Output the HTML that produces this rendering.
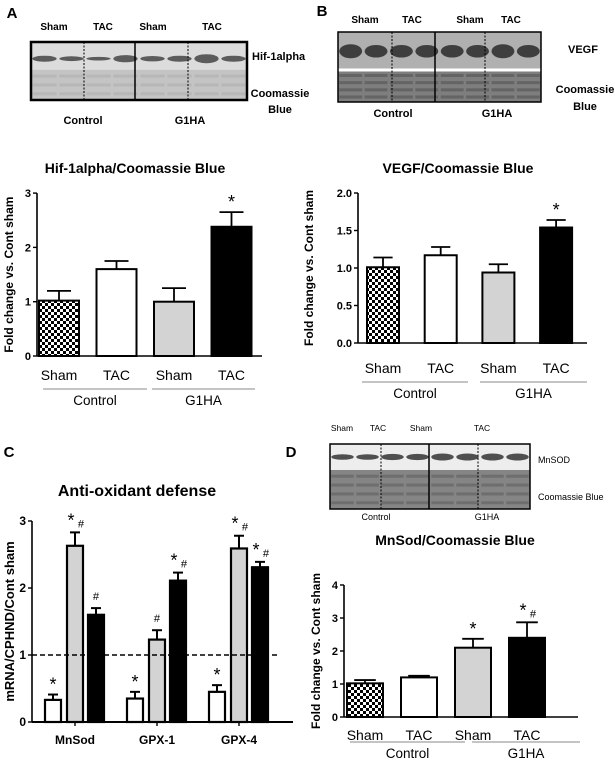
<!DOCTYPE html>
<html><head><meta charset="utf-8">
<style>
html,body{margin:0;padding:0;background:#fff;}
svg{display:block;font-family:"Liberation Sans",Arial,sans-serif;}
</style></head>
<body>
<svg id="fig" width="615" height="765" viewBox="0 0 615 765" xmlns="http://www.w3.org/2000/svg">
<defs>
<pattern id="chk" width="6" height="6" patternUnits="userSpaceOnUse">
<rect width="6" height="6" fill="#fff"/><rect width="3" height="3" fill="#000"/><rect x="3" y="3" width="3" height="3" fill="#000"/>
</pattern>
</defs>
<g id="root"></g>
</svg>
<script>
// ---- Panel A data ----
const catsA = ["Sham","TAC","Sham","TAC"];
const valsA = [1.02, 1.6, 1.0, 2.38];
const errA = [0.18, 0.15, 0.25, 0.27];
const annA = ["", "", "", "*"];
const ticksA = [0, 1, 2, 3];
const tickLabelsA = ["0","1","2","3"];
// ---- Panel B data ----
const catsB = ["Sham","TAC","Sham","TAC"];
const valsB = [1.01, 1.17, 0.94, 1.54];
const errB = [0.13, 0.11, 0.11, 0.10];
const annB = ["", "", "", "*"];
const ticksB = [0, 0.5, 1, 1.5, 2];
const tickLabelsB = ["0.0","0.5","1.0","1.5","2.0"];
// ---- Panel C data ----
const genesC = ["MnSod","GPX-1","GPX-4"];
const seriesC1 = [0.33, 0.35, 0.45];
const seriesC1err = [0.08, 0.10, 0.10];
const seriesC2 = [2.63, 1.23, 2.59];
const seriesC2err = [0.20, 0.14, 0.19];
const seriesC3 = [1.60, 2.11, 2.31];
const seriesC3err = [0.10, 0.12, 0.08];
const annC1 = ["*","*","*"];
const annC2 = ["*#","#","*#"];
const annC3 = ["#","*#","*#"];
const ticksC = [0,1,2,3];
const tickLabelsC = ["0","1","2","3"];
const refLineC = 1;
// ---- Panel D data ----
const catsD = ["Sham","TAC","Sham","TAC"];
const valsD = [1.02, 1.2, 2.1, 2.4];
const errD = [0.10, 0.05, 0.27, 0.47];
const annD = ["", "", "*", "*#"];
const ticksD = [0,1,2,3,4];
const tickLabelsD = ["0","1","2","3","4"];

const NS="http://www.w3.org/2000/svg";
const root=document.getElementById('root');
function mk(tag, attrs, parent){
  const e=document.createElementNS(NS,tag);
  for(const k in attrs) e.setAttribute(k,attrs[k]);
  (parent||root).appendChild(e);
  return e;
}
function txt(s,x,y,size,opts,parent){
  opts=opts||{};
  const t=mk('text',{x:x,y:y,'font-size':size,'text-anchor':opts.anchor||'middle',fill:opts.fill||'#000'},parent);
  if(opts.bold) t.setAttribute('font-weight','bold');
  if(opts.rot) t.setAttribute('transform','rotate(-90 '+x+' '+y+')');
  t.textContent=s;
  return t;
}
const fills=['url(#chk)','#fff','#d3d3d3','#000'];

function annot(s,cx,yTop,size){
  if(!s) return;
  if(s==="*"){
    const t=txt("*",cx,yTop+4,size,{});
    
    
  } else if(s==="#"){
    const t=txt("#",cx,yTop,size*0.62,{});
    
    
  } else {
    const t1=txt("*",cx-4,yTop+2,size,{});
    
    
    const t2=txt("#",cx+6,yTop+3,size*0.62,{});
    
    
  }
}

function yAxis(g,ax,y0,unit,ymax,ticks,labels,fs,bold){
  const sy=v=>y0-v*unit;
  const l=mk('line',{x1:ax,y1:y0,x2:ax,y2:sy(ymax),stroke:'#000','stroke-width':1.6},g);
  
  
  ticks.forEach((v,i)=>{
    mk('line',{x1:ax-4,y1:sy(v),x2:ax,y2:sy(v),stroke:'#000','stroke-width':1.4},g);
    const t=txt(labels[i],ax-6,sy(v)+4,fs,{anchor:'end',bold:bold});
    
    
  });
  return sy;
}

function barChart(cfg){
  const g=mk('g',{});
  
  
  const sy=yAxis(g,cfg.ax,cfg.y0,cfg.unit,cfg.ymax,cfg.ticks,cfg.tickLabels,11,true);
  const xa=mk('line',{x1:cfg.ax,y1:cfg.y0,x2:cfg.axEnd,y2:cfg.y0,stroke:'#000','stroke-width':1.6},g);
  
  
  cfg.vals.forEach((v,i)=>{
    const cx=cfg.start+i*cfg.step, w=cfg.bw;
    const top=sy(v+cfg.err[i]);
    const e=mk('line',{x1:cx,y1:sy(v),x2:cx,y2:top,stroke:'#000','stroke-width':1.8},g);
    
    
    const c=mk('line',{x1:cx-w*0.3,y1:top,x2:cx+w*0.3,y2:top,stroke:'#000','stroke-width':1.8},g);
    
    
    const r=mk('rect',{x:cx-w/2,y:sy(v),width:w,height:v*cfg.unit,fill:fills[i],stroke:'#000','stroke-width':2},g);
    
    
    annot(cfg.ann[i],cx,top-8,18);
    const t=txt(cfg.cats[i],cx,cfg.labelY,14,{});
    
    
  });
  cfg.groups.forEach(gp=>{
    const l=mk('line',{x1:gp[0],y1:cfg.groupLineY,x2:gp[1],y2:cfg.groupLineY,stroke:'#888','stroke-width':1},g);
    
    
    const t=txt(gp[2],(gp[0]+gp[1])/2,cfg.groupLineY+16,13.5,{});
    
    
  });
  const tt=txt(cfg.title,cfg.titleX,cfg.titleY,14,{bold:true});
  
  
  const yl=txt(cfg.ylabel,cfg.ylabelX,(cfg.y0+sy(cfg.ymax))/2,12,{bold:true,rot:true});
  
  
}

function blot(cfg){
  const g=mk('g',{});
  
  
  const x=cfg.x,y=cfg.y,w=cfg.w,h=cfg.h;
  mk('rect',{x:x,y:y,width:w,height:h,fill:cfg.bg1,stroke:'none'},g);
  const split=y+h*cfg.split;
  mk('rect',{x:x,y:split,width:w,height:y+h-split,fill:cfg.bg2},g);
  if(cfg.gap) mk('rect',{x:x,y:split-2,width:w,height:3,fill:'#fff'},g);
  const lw=w/8;
  for(let i=0;i<8;i++){
    const cx=x+lw*(i+0.5);
    mk('ellipse',{cx:cx,cy:y+(split-y)*cfg.bandPos,rx:lw*0.45,ry:cfg.bandH*(cfg.bandInt[i]),fill:cfg.bandCol,opacity:cfg.bandOp},g);
    for(let k=0;k<cfg.stripes;k++){
      const sy=split+(y+h-split)*(k+0.7)/(cfg.stripes+0.4);
      mk('rect',{x:cx-lw*0.45,y:sy-1.5,width:lw*0.9,height:3,fill:cfg.stripeCol,opacity:0.35},g);
    }
  }
  cfg.seps.forEach((s,i)=>{
    const l=mk('line',{x1:s,y1:y,x2:s,y2:y+h,stroke:'#000','stroke-width':i===1?1.5:1,'stroke-dasharray':i===1?'none':'2 1.5'},g);
    
    
  });
  const b=mk('rect',{x:x,y:y,width:w,height:h,fill:'none',stroke:'#000','stroke-width':cfg.bw},g);
  
  
}

[["A",12,18],["B",322,16],["C",9,457],["D",291,457]].forEach(p=>{
  const t=txt(p[0],p[1],p[2],15,{bold:true});
  
  
});

// Blot A
blot({name:'blot-a',x:31,y:42,w:216,h:58,split:0.48,bg1:'#dcdcdc',bg2:'#c4c4c4',bandPos:0.6,bandH:3,bandInt:[1,0.8,0.6,1.2,0.9,1,1.5,1],bandCol:'#444',bandOp:0.85,stripes:3,stripeCol:'#a0a0a0',seps:[84,135,188],bw:2.5,gap:false});
[["Sham",54],["TAC",103],["Sham",153],["TAC",212]].forEach(l=>{const t=txt(l[0],l[1],30,10,{bold:true});});
[["Hif-1alpha",252,60,'start'],["Coomassie",280,97,'middle'],["Blue",280,113,'middle']].forEach(l=>{const t=txt(l[0],l[1],l[2],11,{bold:true,anchor:l[3]});});
[["Control",83],["G1HA",190]].forEach(l=>{const t=txt(l[0],l[1],124,11,{bold:true});});

// Blot B
blot({name:'blot-b',x:338,y:32,w:203,h:70,split:0.55,bg1:'#b0b0b0',bg2:'#7e7e7e',bandPos:0.5,bandH:7,bandInt:[1,0.9,0.9,0.9,0.9,0.9,1,0.9],bandCol:'#2a2a2a',bandOp:0.85,stripes:4,stripeCol:'#333',seps:[392,435,485],bw:1.5,gap:true});
[["Sham",365],["TAC",412],["Sham",470],["TAC",511]].forEach(l=>{const t=txt(l[0],l[1],23,10,{bold:true});});
[["VEGF",568,53,'start'],["Coomassie",585,93,'middle'],["Blue",585,110,'middle']].forEach(l=>{const t=txt(l[0],l[1],l[2],11,{bold:true,anchor:l[3]});});
[["Control",393],["G1HA",497]].forEach(l=>{const t=txt(l[0],l[1],117,11,{bold:true});});

// Blot D
blot({name:'blot-d',x:330,y:444,w:200,h:65,split:0.4,bg1:'#ededed',bg2:'#858585',bandPos:0.5,bandH:3.5,bandInt:[0.8,0.8,0.9,0.9,1,1,1,1],bandCol:'#333',bandOp:0.85,stripes:4,stripeCol:'#444',seps:[381,429,478],bw:1.5,gap:false});
[["Sham",342],["TAC",378],["Sham",421],["TAC",482]].forEach(l=>{const t=txt(l[0],l[1],431,8.5,{});});
[["MnSOD",538,463],["Coomassie Blue",538,500]].forEach(l=>{const t=txt(l[0],l[1],l[2],9,{anchor:'start'});});
[["Control",376],["G1HA",487]].forEach(l=>{const t=txt(l[0],l[1],520,9,{});});

barChart({name:'chart-a',ax:37,axEnd:262,y0:356,unit:54.3,ymax:3,ticks:ticksA,tickLabels:tickLabelsA,
 vals:valsA,err:errA,ann:annA,cats:catsA,start:59,step:57.5,bw:40,labelY:380,groupLineY:389,
 groups:[[43,147,'Control'],[152,255,'G1HA']],title:'Hif-1alpha/Coomassie Blue',titleX:135,titleY:173,ylabel:'Fold change vs. Cont sham',ylabelX:13});
barChart({name:'chart-b',ax:358,axEnd:587,y0:343,unit:75,ymax:2,ticks:ticksB,tickLabels:tickLabelsB,
 vals:valsB,err:errB,ann:annB,cats:catsB,start:383,step:57.7,bw:32,labelY:373,groupLineY:382,
 groups:[[362,468,'Control'],[480,587,'G1HA']],title:'VEGF/Coomassie Blue',titleX:458,titleY:173,ylabel:'Fold change vs. Cont sham',ylabelX:313});
barChart({name:'chart-d',ax:344,axEnd:578,y0:717,unit:33,ymax:4,ticks:ticksD,tickLabels:tickLabelsD,
 vals:valsD,err:errD,ann:annD,cats:catsD,start:365,step:54,bw:36,labelY:740,groupLineY:742,
 groups:[[350,465,'Control'],[472,580,'G1HA']],title:'MnSod/Coomassie Blue',titleX:455,titleY:545,ylabel:'Fold change vs. Cont sham',ylabelX:320});

(function(){
  const g=mk('g',{});
  
  
  const ax=32,y0=722,unit=67,ymax=3,axEnd=293;
  const sy=yAxis(g,ax,y0,unit,ymax,ticksC,tickLabelsC,12,true);
  const xa=mk('line',{x1:ax,y1:y0,x2:axEnd,y2:y0,stroke:'#000','stroke-width':2},g);
  
  
  const series=[[seriesC1,seriesC1err,annC1,'#fff'],[seriesC2,seriesC2err,annC2,'#d3d3d3'],[seriesC3,seriesC3err,annC3,'#000']];
  const offs=[-22,0,21], bw=16;
  genesC.forEach((gn,gi)=>{
    const gc=75+gi*82;
    mk('line',{x1:gc,y1:y0,x2:gc,y2:y0+4,stroke:'#000','stroke-width':1.4},g);
    series.forEach((s,si)=>{
      const v=s[0][gi], cx=gc+offs[si], top=sy(v+s[1][gi]);
      const e=mk('line',{x1:cx,y1:sy(v),x2:cx,y2:top,stroke:'#000','stroke-width':2},g);
      
      
      const c=mk('line',{x1:cx-5,y1:top,x2:cx+5,y2:top,stroke:'#000','stroke-width':2},g);
      
      
      const r=mk('rect',{x:cx-bw/2,y:sy(v),width:bw,height:v*unit,fill:s[3],stroke:'#000','stroke-width':2.2},g);
      
      
      annot(s[2][gi],cx,top-8,18);
    });
    const t=txt(gn,gc,744,12,{bold:true});
    
    
  });
  const dl=mk('line',{x1:ax,y1:sy(refLineC),x2:278,y2:sy(refLineC),stroke:'#000','stroke-width':1.6,'stroke-dasharray':'5 3'},g);
  
  
  const tt=txt('Anti-oxidant defense',137,496,16,{bold:true});
  
  
  const yl=txt('mRNA/CPHND/Cont sham',14,(y0+sy(ymax))/2,13,{bold:true,rot:true});
  
  
})();
</script>
</body></html>
